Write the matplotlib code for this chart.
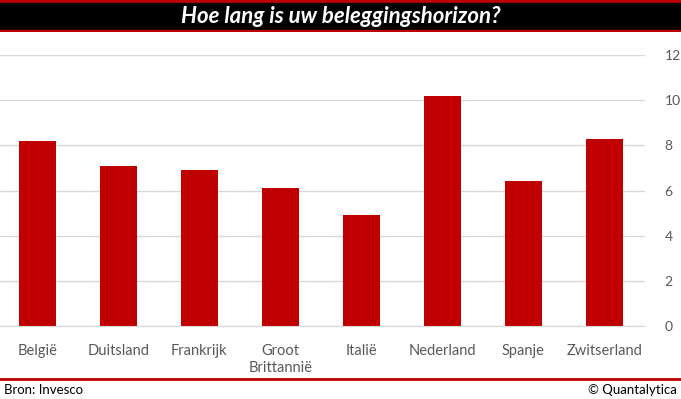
import matplotlib.pyplot as plt
import numpy as np

landen = ["België", "Duitsland", "Frankrijk", "Groot\nBrittannië", "Italië",
          "Nederland", "Spanje", "Zwitserland"]
horizon = [8.2, 7.1, 6.9, 6.1, 4.9, 10.2, 6.4, 8.3]
y_ticks = [0, 2, 4, 6, 8, 10, 12]

W, H = 681, 399
RED = "#c00000"
plt.rcParams["font.family"] = ["Lato", "DejaVu Sans"]

fig = plt.figure(figsize=(W / 100, H / 100), dpi=100)

# title band
band = fig.add_axes([0, 1 - 32 / H, 1, 32 / H])
band.set_xlim(0, 1)
band.set_ylim(0, 32)
band.axis("off")
band.axhspan(29, 32, color=RED)
band.axhspan(2, 29, color="black")
band.axhspan(0, 2, color=RED)
band.text(0.5, 15.5, "Hoe lang is uw beleggingshorizon?", color="white",
          fontsize=16, fontweight="bold", fontstyle="italic",
          ha="center", va="center")

# main chart
ax = fig.add_axes([0, 1 - 326 / H, 645 / W, (326 - 55) / H])
x = np.arange(len(landen))
ax.bar(x, horizon, width=0.46, color=RED, zorder=2)
ax.set_xlim(-0.46, 7.5)
ax.set_ylim(0, 12)
ax.set_yticks(y_ticks)
ax.yaxis.tick_right()
ax.grid(axis="y", color="#d9d9d9", linewidth=1, zorder=0)
ax.set_xticks(x)
ax.set_xticklabels(landen, fontsize=10.5, color="#595959", linespacing=1.3)
ax.tick_params(axis="x", length=0, pad=13)
ax.tick_params(axis="y", length=0, pad=14, labelsize=10, labelcolor="#595959")
for s in ["top", "left", "right"]:
    ax.spines[s].set_visible(False)
ax.spines["bottom"].set_color("#d9d9d9")

# footer
foot = fig.add_axes([0, 0, 1, 22 / H])
foot.set_xlim(0, W)
foot.set_ylim(0, 22)
foot.axis("off")
foot.axhline(20.5, color=RED, linewidth=2)
foot.text(4, 9, "Bron: Invesco", fontsize=9.5, ha="left", va="center")
foot.text(W - 4, 9, "© Quantalytica", fontsize=9.5, ha="right", va="center")

fig.savefig("out.png", dpi=100)
